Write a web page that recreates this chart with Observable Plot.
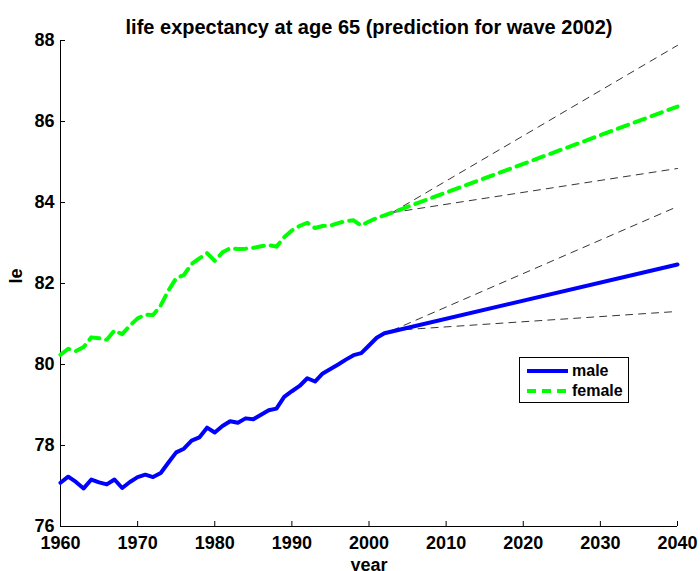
<!DOCTYPE html>
<html>
<head>
<meta charset="utf-8">
<script src="https://cdn.jsdelivr.net/npm/d3@7"></script>
<script src="https://cdn.jsdelivr.net/npm/@observablehq/plot@0.6"></script>
<style>
  html, body { margin: 0; padding: 0; background: #fff; }
  #wrap { position: relative; width: 700px; height: 571px; overflow: hidden; font-family: "Liberation Sans", Arial, Helvetica, sans-serif; }
  #legend { position: absolute; left: 519px; top: 357px; width: 108px; height: 44px; border: 1px solid #000; background: #fff; box-sizing: content-box; }
  #legend .row { position: absolute; left: 0; height: 20px; display: flex; align-items: center; font-weight: bold; font-size: 16px; color: #000; }
  #legend svg { display: block; margin-left: 7px; margin-right: 4px; }
</style>
</head>
<body>
<div id="wrap"></div>
<script>
// ---- data ----
const titleText = "life expectancy at age 65 (prediction for wave 2002)";
const xLabel = "year";
const yLabel = "le";
const xTicks = [1960, 1970, 1980, 1990, 2000, 2010, 2020, 2030, 2040];
const yTicks = [76, 78, 80, 82, 84, 86, 88];
const seriesNames = ["male", "female"];

const years = [1960,1961,1962,1963,1964,1965,1966,1967,1968,1969,
               1970,1971,1972,1973,1974,1975,1976,1977,1978,1979,
               1980,1981,1982,1983,1984,1985,1986,1987,1988,1989,
               1990,1991,1992,1993,1994,1995,1996,1997,1998,1999,
               2000,2001,2002];
const male = [77.08,77.23,77.10,76.94,77.16,77.09,77.04,77.16,76.95,77.10,
              77.22,77.28,77.22,77.32,77.58,77.83,77.92,78.12,78.20,78.44,
              78.32,78.48,78.60,78.56,78.67,78.65,78.76,78.87,78.91,79.20,
              79.34,79.47,79.66,79.58,79.78,79.89,80.00,80.12,80.23,80.28,
              80.47,80.66,80.77];
const female = [80.24,80.39,80.33,80.43,80.67,80.65,80.61,80.84,80.75,80.96,
                81.14,81.23,81.22,81.46,81.83,82.13,82.21,82.48,82.62,82.75,
                82.56,82.77,82.87,82.85,82.86,82.88,82.92,82.95,82.91,83.14,
                83.31,83.42,83.50,83.37,83.42,83.43,83.49,83.54,83.56,83.43,
                83.53,83.62,83.68];

// projection (central) after the last wave
const projYears = [2040];
const maleProj = [82.47];
const femaleProj = [86.37];

// prediction bounds
const boundYears = [2003, 2040];
const maleHi = [80.84, 83.90];
const maleLo = [80.84, 81.31];
const femaleHi = [83.75, 87.88];
const femaleLo = [83.75, 84.84];

// ---- build tables ----
const maleRows = years.map((y, i) => ({year: y, le: male[i]}))
  .concat(projYears.map((y, i) => ({year: y, le: maleProj[i]})));
const femaleRows = years.map((y, i) => ({year: y, le: female[i]}))
  .concat(projYears.map((y, i) => ({year: y, le: femaleProj[i]})));
const bounds = [maleHi, maleLo, femaleHi, femaleLo].flatMap((arr, k) =>
  boundYears.map((y, i) => ({year: y, le: arr[i], band: k})));

const chart = Plot.plot({
  width: 700,
  height: 571,
  marginLeft: 60,
  marginRight: 23,
  marginTop: 40,
  marginBottom: 45,
  style: {fontFamily: "'Liberation Sans', Arial, Helvetica, sans-serif", color: "#000", background: "#fff", overflow: "visible"},
  x: {domain: [1960, 2040]},
  y: {domain: [76, 88]},
  marks: [
    Plot.axisX({ticks: xTicks, tickFormat: d => String(d), tickSize: -5, tickPadding: 15, fontSize: 18, fontWeight: "bold", label: null, stroke: "#000"}),
    Plot.axisY({ticks: yTicks, tickFormat: d => String(d), tickSize: -5, tickPadding: 11, fontSize: 18, fontWeight: "bold", label: null, stroke: "#000"}),
    Plot.ruleX([1960], {stroke: "#000", strokeWidth: 1}),
    Plot.ruleY([76], {stroke: "#000", strokeWidth: 1}),
    Plot.line(bounds, {x: "year", y: "le", z: "band", stroke: "#000", strokeWidth: 0.8, strokeDasharray: "7,6"}),
    Plot.line(femaleRows, {x: "year", y: "le", stroke: "#00ff00", strokeWidth: 4, strokeDasharray: "11,7"}),
    Plot.line(maleRows, {x: "year", y: "le", stroke: "#0000ff", strokeWidth: 4}),
    Plot.text([titleText], {frameAnchor: "top", dy: -21, fontSize: 20, fontWeight: "bold", fill: "#000"}),
    Plot.text([yLabel], {frameAnchor: "left", dx: -44, rotate: -90, fontSize: 18, fontWeight: "bold", fill: "#000"}),
    Plot.text([xLabel], {frameAnchor: "bottom", dy: 44, fontSize: 18, fontWeight: "bold", fill: "#000"})
  ]
});

const wrap = document.getElementById("wrap");
wrap.appendChild(chart);

// legend
const legend = document.createElement("div");
legend.id = "legend";
const styles = [
  {stroke: "#0000ff", dash: null},
  {stroke: "#00ff00", dash: "9,6"}
];
seriesNames.forEach((name, i) => {
  const row = document.createElement("div");
  row.className = "row";
  row.style.top = (3 + i * 20) + "px";
  const ns = "http://www.w3.org/2000/svg";
  const s = document.createElementNS(ns, "svg");
  s.setAttribute("width", 41);
  s.setAttribute("height", 10);
  const l = document.createElementNS(ns, "line");
  l.setAttribute("x1", 0); l.setAttribute("x2", 41);
  l.setAttribute("y1", 5); l.setAttribute("y2", 5);
  l.setAttribute("stroke", styles[i].stroke);
  l.setAttribute("stroke-width", 4);
  if (styles[i].dash) l.setAttribute("stroke-dasharray", styles[i].dash);
  s.appendChild(l);
  row.appendChild(s);
  const t = document.createElement("span");
  t.textContent = name;
  row.appendChild(t);
  legend.appendChild(row);
});
wrap.appendChild(legend);
</script>
</body>
</html>
